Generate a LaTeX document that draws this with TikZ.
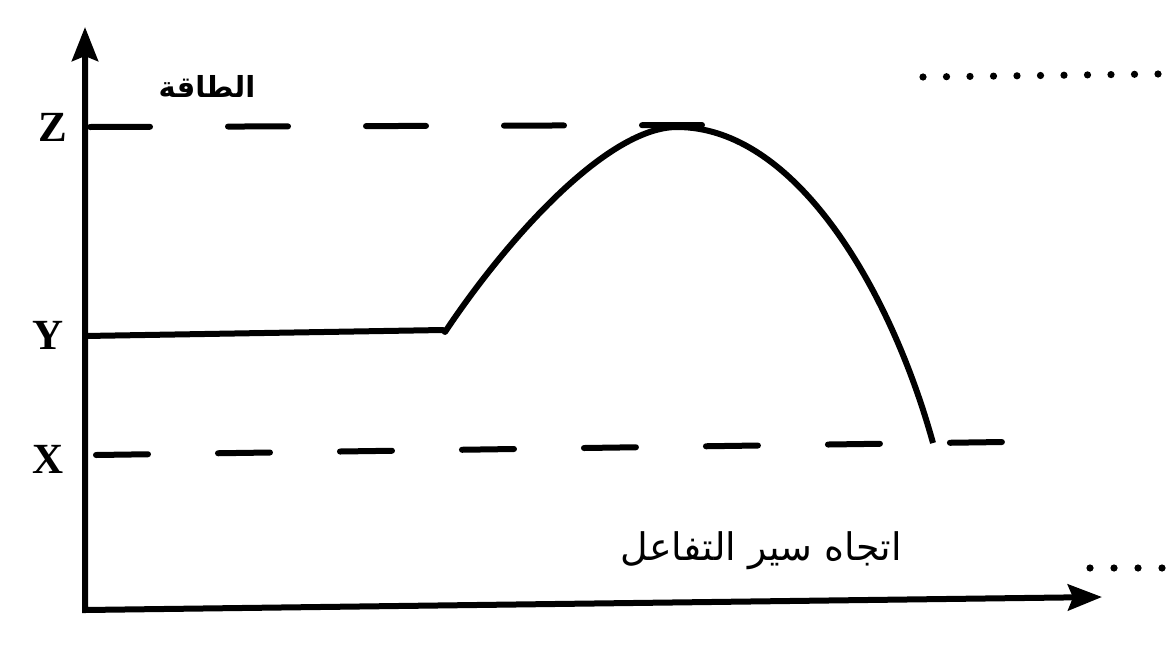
\documentclass[tikz,border=0pt]{standalone}
\usepackage{fontspec}
\setmainfont{Liberation Serif}
\newfontfamily\arabicfont[Script=Arabic]{DejaVu Sans}
\TeXXeTstate=1
\usetikzlibrary{arrows.meta}
\tikzset{
  axisline/.style={line width=6pt, line join=miter, {Stealth[length=34pt,width=26pt,inset=5pt]}-{Stealth[length=34pt,width=26pt,inset=5pt]}},
  levelZ/.style={line width=6pt, line cap=round, dash pattern=on 60pt off 78pt},
  levelX/.style={line width=6pt, line cap=round, dash pattern=on 52pt off 70pt},
  curveline/.style={line width=6pt, line join=round},
  letter/.style={font=\bfseries\fontsize{43}{50}\selectfont, inner sep=0pt},
  dotmark/.style={fill=black},
}
\begin{document}
\begin{tikzpicture}[x=1pt,y=-1pt]
\useasboundingbox (0,0) rectangle (1169,648);
% axes
\coordinate (O) at (85,610);
\coordinate (ytip) at (85,27);
\coordinate (xtip) at (1102,597);
\draw[axisline] (ytip) -- (O) -- (xtip);
% level lines
\coordinate (ZL) at (90,127);
\coordinate (ZR) at (705,125);
\draw[levelZ] (ZL) -- (ZR);
\coordinate (XL) at (96,455);
\coordinate (XR) at (1003,442);
\draw[levelX] (XL) -- (XR);
% energy profile
\coordinate (Y0) at (85,336);
\coordinate (Yc) at (443,330);
\coordinate (ts) at (677,127);
\coordinate (prod) at (933,443);
\draw[curveline] (Y0) -- (Yc) -- (445,332) .. controls (510,234.5) and (609,127) .. (ts)
  .. controls (795,127) and (890,288) .. (prod);
% labels
\node[letter] (lz) at (53,127) {Z};
\node[letter] (ly) at (48,335) {Y};
\node[letter] (lx) at (48,459) {X};
\node[inner sep=0pt] (energy) at (207,86) {\arabicfont\bfseries\fontsize{29}{36}\selectfont\beginR الطاقة\endR};
\node[inner sep=0pt] (course) at (761,551) {\arabicfont\fontsize{38}{44}\selectfont\beginR اتجاه سير التفاعل\endR};
% dotted leaders
\foreach \i in {0,...,10} {
  \fill[dotmark] (923+23.5*\i, 77-0.3*\i) circle (3.6pt);
}
\foreach \i in {0,...,3} {
  \fill[dotmark] (1090+24*\i, 568) circle (3.6pt);
}
\end{tikzpicture}
\end{document}
